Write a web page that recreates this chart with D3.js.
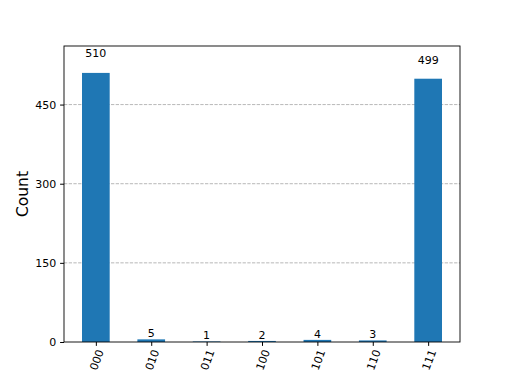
<!DOCTYPE html>
<html>
<head>
<meta charset="utf-8">
<script src="https://cdn.jsdelivr.net/npm/d3@7"></script>
<style>
  body { margin: 0; background: #fff; }
  text { font-family: "DejaVu Sans", sans-serif; fill: #000; }
</style>
</head>
<body>
<div id="chart"></div>
<script>
  // measurement outcomes and counts
  var states = ["000", "010", "011", "100", "101", "110", "111"];
  var counts = [510, 5, 1, 2, 4, 3, 499];
  var yTicks = [0, 150, 300, 450];

  var width = 512, height = 384;
  var margin = {top: 46, right: 52, bottom: 42, left: 64};
  var plotW = width - margin.left - margin.right,
      plotH = height - margin.top - margin.bottom;

  var svg = d3.select("#chart")
              .append("svg")
              .attr("width", width)
              .attr("height", height);

  var g = svg.append("g")
             .attr("transform", "translate(" + margin.left + "," + margin.top + ")");

  // matplotlib style: bar width 0.5, 5% margins
  var x = d3.scaleLinear()
            .domain([-0.575, states.length - 1 + 0.575])
            .range([0, plotW]);

  var y = d3.scaleLinear()
            .domain([0, 1.1 * d3.max(counts)])
            .range([plotH, 0]);

  // grid
  g.selectAll(".grid")
   .data(yTicks.slice(1))
   .enter()
   .append("line")
   .attr("class", "grid")
   .attr("x1", 0)
   .attr("x2", plotW)
   .attr("y1", function(d) { return y(d); })
   .attr("y2", function(d) { return y(d); })
   .attr("stroke", "#b0b0b0")
   .attr("stroke-width", 0.9)
   .attr("stroke-dasharray", "3.3,1.4");

  var bw = x(0.5) - x(0);

  g.selectAll(".bar")
   .data(counts)
   .enter()
   .append("rect")
   .attr("class", "bar")
   .attr("x", function(d, i) { return x(i) - bw / 2; })
   .attr("y", function(d) { return y(d); })
   .attr("width", bw)
   .attr("height", function(d) { return plotH - y(d); })
   .attr("fill", "#1f77b4");

  g.selectAll(".label")
   .data(counts)
   .enter()
   .append("text")
   .attr("class", "label")
   .attr("x", function(d, i) { return x(i); })
   .attr("y", function(d) { return y(1.05 * d) - 2; })
   .attr("text-anchor", "middle")
   .attr("font-size", "11px")
   .text(function(d) { return d; });

  // axes
  var yAxis = d3.axisLeft(y)
                .tickValues(yTicks)
                .tickSize(3.9)
                .tickPadding(3.9);

  var yG = g.append("g").call(yAxis);
  yG.select(".domain").remove();
  yG.selectAll("text").attr("font-size", "11px").style("font-family", "DejaVu Sans");

  var xAxis = d3.axisBottom(x)
                .tickValues(d3.range(states.length))
                .tickFormat(function(i) { return states[i]; })
                .tickSize(3.9)
                .tickPadding(0);

  var xG = g.append("g")
            .attr("transform", "translate(0," + plotH + ")")
            .call(xAxis);
  xG.select(".domain").remove();
  xG.selectAll("text")
    .attr("font-size", "11px")
    .style("font-family", "DejaVu Sans")
    .attr("text-anchor", "end")
    .attr("x", 0)
    .attr("y", 0)
    .attr("dy", "0.35em")
    .attr("transform", "translate(4,8) rotate(-70)");

  g.append("rect")
   .attr("width", plotW)
   .attr("height", plotH)
   .attr("fill", "none")
   .attr("stroke", "#000")
   .attr("stroke-width", 0.9);

  svg.append("text")
     .attr("transform", "translate(28," + (margin.top + plotH / 2) + ") rotate(-90)")
     .attr("text-anchor", "middle")
     .attr("font-size", "15.5px")
     .text("Count");
</script>
</body>
</html>
